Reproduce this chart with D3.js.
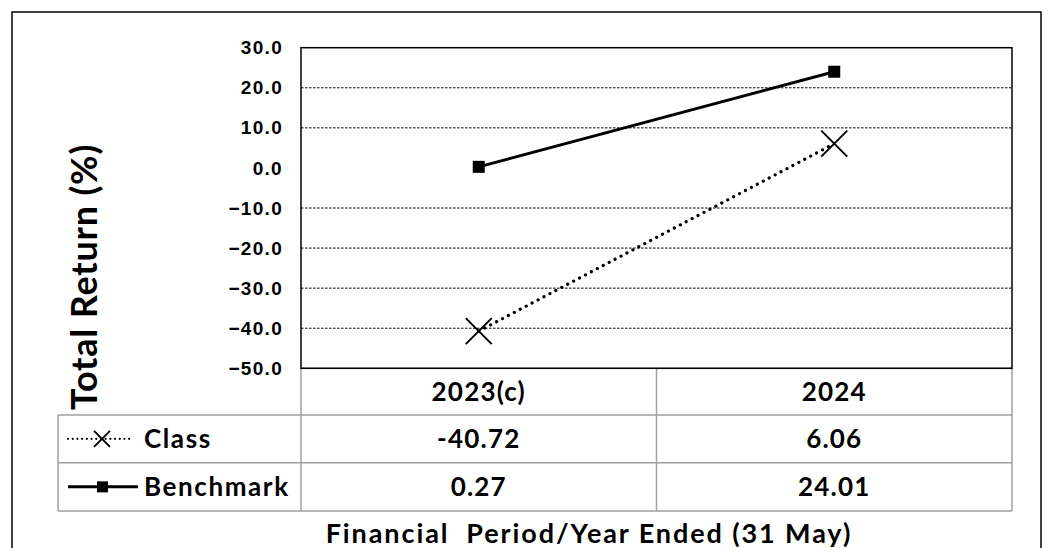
<!DOCTYPE html>
<html>
<head>
<meta charset="utf-8">
<script src="https://cdn.jsdelivr.net/npm/d3@7"></script>
<style>
  body { margin: 0; background: #fff; }
  svg { display: block; }
</style>
</head>
<body>
<svg id="chart" width="1051" height="548"></svg>
<script>
// chart data
const categories = ["2023(c)", "2024"];
const classValues = [-40.72, 6.06];
const benchmarkValues = [0.27, 24.01];
const classLabels = ["-40.72", "6.06"];
const benchmarkLabels = ["0.27", "24.01"];
const yTicks = [30, 20, 10, 0, -10, -20, -30, -40, -50];
const gridTicks = [20, 10, -10, -20, -30, -40];

const svg = d3.select("#chart");

const plot = { left: 301, top: 47.7, right: 1012, bottom: 368.3 };
const tableLeft = 58;
const rowEdges = [368.3, 415, 462.7, 511];

const x = d3.scaleBand().domain(categories).range([plot.left, plot.right]);
const y = d3.scaleLinear().domain([-50, 30]).range([plot.bottom, plot.top]);
const cx = (c) => x(c) + x.bandwidth() / 2;

const tableFont = "Lato, 'Open Sans', sans-serif";

// outer frame
svg.append("rect")
  .attr("x", 12).attr("y", 12)
  .attr("width", 1029).attr("height", 560)
  .attr("fill", "none")
  .attr("stroke", "#000")
  .attr("stroke-width", 1.5);

// gridlines (none at 0, as in the original)
svg.append("g")
  .selectAll("line")
  .data(gridTicks)
  .enter()
  .append("line")
  .attr("x1", plot.left).attr("x2", plot.right)
  .attr("y1", (d) => y(d)).attr("y2", (d) => y(d))
  .attr("stroke", "#000")
  .attr("stroke-width", 1)
  .attr("stroke-dasharray", "2.5,1.5");

// y axis labels
const yAxis = svg.append("g")
  .attr("transform", `translate(${plot.left},0)`)
  .call(
    d3.axisLeft(y)
      .tickValues(yTicks)
      .tickFormat(d3.format(".1f"))
      .tickSize(0)
      .tickPadding(18)
  );
yAxis.select(".domain").remove();
yAxis.selectAll("text")
  .attr("fill", "#000")
  .style("font-family", "'Liberation Sans', Arial, sans-serif")
  .style("font-weight", "bold")
  .style("font-size", "19px")
  .style("letter-spacing", "1.3px");

// table grid
const tbl = svg.append("g")
  .attr("fill", "none")
  .attr("stroke", "#a0a0a0")
  .attr("stroke-width", 1.5);

tbl.append("line")
  .attr("x1", plot.left).attr("x2", plot.right)
  .attr("y1", rowEdges[0]).attr("y2", rowEdges[0]);
rowEdges.slice(1).forEach((ry) => {
  tbl.append("line")
    .attr("x1", tableLeft).attr("x2", plot.right)
    .attr("y1", ry).attr("y2", ry);
});
tbl.append("line")
  .attr("x1", tableLeft).attr("x2", tableLeft)
  .attr("y1", rowEdges[1]).attr("y2", rowEdges[3]);
[plot.left, x(categories[1]), plot.right].forEach((vx) => {
  tbl.append("line")
    .attr("x1", vx).attr("x2", vx)
    .attr("y1", rowEdges[0]).attr("y2", rowEdges[3]);
});

// plot border
svg.append("rect")
  .attr("x", plot.left).attr("y", plot.top)
  .attr("width", plot.right - plot.left)
  .attr("height", plot.bottom - plot.top)
  .attr("fill", "none")
  .attr("stroke", "#000")
  .attr("stroke-width", 1.5);

// table text
const rowMid = (i) => (rowEdges[i] + rowEdges[i + 1]) / 2;
const tableRows = [categories, classLabels, benchmarkLabels];
tableRows.forEach((row, i) => {
  svg.append("g")
    .selectAll("text")
    .data(row)
    .enter()
    .append("text")
    .attr("x", (d, j) => cx(categories[j]))
    .attr("y", rowMid(i))
    .attr("dy", "0.36em")
    .attr("text-anchor", "middle")
    .style("font-family", tableFont)
    .style("font-weight", "bold")
    .style("font-size", "26px")
    .style("letter-spacing", "1.2px")
    .text((d) => d);
});

// series lines
const line = d3.line()
  .x((d, i) => cx(categories[i]))
  .y((d) => y(d));

svg.append("path")
  .datum(classValues)
  .attr("d", line)
  .attr("fill", "none")
  .attr("stroke", "#000")
  .attr("stroke-width", 3.2)
  .attr("stroke-linecap", "round")
  .attr("stroke-dasharray", "0.1,6.6");

svg.append("path")
  .datum(benchmarkValues)
  .attr("d", line)
  .attr("fill", "none")
  .attr("stroke", "#000")
  .attr("stroke-width", 3);

function crossPath(px, py, r) {
  return `M${px - r},${py - r}L${px + r},${py + r}M${px - r},${py + r}L${px + r},${py - r}`;
}

svg.append("g")
  .selectAll("path")
  .data(classValues)
  .enter()
  .append("path")
  .attr("d", (d, i) => crossPath(cx(categories[i]), y(d), 13))
  .attr("stroke", "#000")
  .attr("stroke-width", 2)
  .attr("fill", "none");

svg.append("g")
  .selectAll("rect")
  .data(benchmarkValues)
  .enter()
  .append("rect")
  .attr("x", (d, i) => cx(categories[i]) - 6)
  .attr("y", (d) => y(d) - 6)
  .attr("width", 12)
  .attr("height", 12)
  .attr("fill", "#000");

// legend keys in table
const ly1 = rowMid(1);
const ly2 = rowMid(2);
svg.append("line")
  .attr("x1", 68).attr("x2", 132)
  .attr("y1", ly1).attr("y2", ly1)
  .attr("stroke", "#000")
  .attr("stroke-width", 2.2)
  .attr("stroke-linecap", "round")
  .attr("stroke-dasharray", "0.1,4.6");
svg.append("path")
  .attr("d", crossPath(102, ly1, 8))
  .attr("stroke", "#000")
  .attr("stroke-width", 2)
  .attr("fill", "none");
svg.append("line")
  .attr("x1", 68).attr("x2", 138)
  .attr("y1", ly2).attr("y2", ly2)
  .attr("stroke", "#000")
  .attr("stroke-width", 3);
svg.append("rect")
  .attr("x", 97).attr("y", ly2 - 5.5)
  .attr("width", 11).attr("height", 11)
  .attr("fill", "#000");

svg.append("g")
  .selectAll("text")
  .data(["Class", "Benchmark"])
  .enter()
  .append("text")
  .attr("x", 144)
  .attr("y", (d, i) => rowMid(i + 1))
  .attr("dy", "0.36em")
  .style("font-family", tableFont)
  .style("font-weight", "bold")
  .style("font-size", "26px")
  .style("letter-spacing", "1.6px")
  .text((d) => d);

// axis titles
svg.append("text")
  .attr("transform", "translate(97,277) rotate(-90)")
  .attr("text-anchor", "middle")
  .style("font-family", tableFont)
  .style("font-weight", "bold")
  .style("font-size", "36px")
  .style("letter-spacing", "0.8px")
  .text("Total Return (%)");

svg.append("text")
  .attr("x", 589)
  .attr("y", 543)
  .attr("text-anchor", "middle")
  .attr("xml:space", "preserve")
  .style("white-space", "pre")
  .style("font-family", tableFont)
  .style("font-weight", "bold")
  .style("font-size", "27px")
  .style("letter-spacing", "1.9px")
  .text("Financial  Period/Year Ended (31 May)");
</script>
</body>
</html>
